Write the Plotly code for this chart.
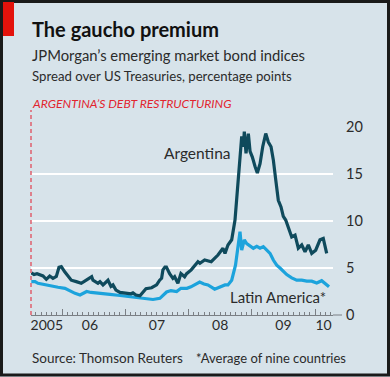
import plotly.graph_objects as go
from datetime import datetime

# ---- data (decimal years, spread in percentage points) ----
arg_t = [2005.511, 2005.554, 2005.601, 2005.696, 2005.748, 2005.802, 2005.854, 2005.907,
         2005.949, 2005.986, 2006.040, 2006.092, 2006.144, 2006.223, 2006.302, 2006.381,
         2006.435, 2006.467, 2006.487, 2006.566, 2006.598, 2006.646, 2006.725, 2006.772,
         2006.804, 2006.851, 2006.915, 2007.021, 2007.089, 2007.120, 2007.168, 2007.231,
         2007.278, 2007.326, 2007.416, 2007.495, 2007.543, 2007.574, 2007.595, 2007.627,
         2007.650, 2007.701, 2007.753, 2007.780, 2007.832, 2007.880, 2007.938, 2007.970,
         2008.043, 2008.070, 2008.149, 2008.180, 2008.255, 2008.359, 2008.465, 2008.544,
         2008.576, 2008.623, 2008.682, 2008.734, 2008.777, 2008.813, 2008.840, 2008.866,
         2008.881, 2008.908, 2008.945, 2008.972, 2009.008, 2009.051, 2009.087, 2009.130,
         2009.172, 2009.220, 2009.261, 2009.304, 2009.340, 2009.378, 2009.419, 2009.462,
         2009.498, 2009.536, 2009.578, 2009.631, 2009.684, 2009.736, 2009.790, 2009.842,
         2009.894, 2009.948, 2010.011, 2010.079, 2010.131, 2010.185]
arg_v = [4.5, 4.3, 4.4, 4.15, 3.8, 4.15, 3.9, 4.1,
         5.07, 5.15, 4.6, 4.1, 3.7, 3.55, 3.37, 3.7,
         3.9, 4.07, 3.7, 3.37, 3.55, 3.2, 3.7, 3.05,
         3.2, 2.66, 2.4, 2.3, 2.26, 2.35, 2.13, 2.05,
         2.45, 2.8, 2.9, 3.2, 3.7, 3.9, 4.8, 5.1,
         5.1, 4.4, 3.9, 4.07, 3.37, 4.4, 4.07, 4.4,
         4.8, 5.0, 5.67, 5.5, 5.85, 5.67, 6.38, 7.1,
         6.56, 7.45, 8.0, 10.1, 13.6, 16.5, 19.0, 17.9,
         19.5, 17.2, 19.3, 17.4, 16.8, 15.8, 15.1, 16.1,
         17.9, 19.3, 18.4, 17.9, 16.5, 14.4, 12.2, 11.5,
         10.5, 10.1, 9.4, 8.3, 8.5, 7.1, 7.45, 6.73,
         7.45, 6.56, 6.9, 8.0, 8.15, 6.56]

lat_t = [2005.511, 2005.570, 2005.617, 2005.728, 2005.854, 2005.934, 2006.044, 2006.123,
         2006.203, 2006.282, 2006.388, 2006.456, 2006.566, 2006.646, 2006.756, 2006.883,
         2007.009, 2007.120, 2007.231, 2007.337, 2007.437, 2007.547, 2007.653, 2007.722,
         2007.812, 2007.880, 2007.975, 2008.038, 2008.101, 2008.176, 2008.244, 2008.307,
         2008.413, 2008.492, 2008.576, 2008.623, 2008.682, 2008.742, 2008.786, 2008.813,
         2008.840, 2008.881, 2008.919, 2008.972, 2009.024, 2009.078, 2009.130, 2009.182,
         2009.236, 2009.288, 2009.340, 2009.394, 2009.446, 2009.498, 2009.552, 2009.631,
         2009.710, 2009.790, 2009.869, 2009.948, 2010.027, 2010.106, 2010.185, 2010.222]
lat_v = [3.55, 3.55, 3.37, 3.2, 3.0, 2.95, 2.84, 2.55,
         2.3, 2.13, 2.5, 2.4, 2.3, 2.25, 2.2, 2.1,
         2.0, 1.9, 1.85, 1.77, 1.65, 1.77, 2.45, 2.6,
         2.5, 2.84, 2.84, 3.0, 3.2, 3.5, 3.3, 3.2,
         2.75, 3.0, 3.2, 3.2, 3.7, 5.3, 7.27, 8.86,
         6.9, 8.0, 7.6, 7.35, 7.1, 7.3, 7.1, 7.27,
         6.9, 6.56, 5.85, 5.3, 5.0, 4.6, 4.3, 3.95,
         3.7, 3.7, 3.6, 3.6, 3.4, 3.65, 3.2, 3.0]

y_ticks = [0, 5, 10, 15, 20]
year_ticks = [2006, 2007, 2008, 2009, 2010]
year_labels = ["2005", "06", "07", "08", "09", "10"]
year_label_pos = [2005.756, 2006.44, 2007.5, 2008.5, 2009.5, 2010.135]


def yr2date(y):
    year = int(y)
    start = datetime(year, 1, 1)
    end = datetime(year + 1, 1, 1)
    return start + (end - start) * (y - year)


BG = "#d7e3ea"
DARK = "#0f4a5c"
LIGHT = "#1ca3dc"
RED = "#e3120b"
TXT = "#2b2b2b"
FONT = "Lato"

x_range = [yr2date(2005.506), yr2date(2010.285)]

fig = go.Figure()
fig.add_trace(go.Scatter(x=[yr2date(t) for t in lat_t], y=lat_v, mode="lines",
                         line=dict(color=LIGHT, width=3.2), hoverinfo="skip", showlegend=False))
fig.add_trace(go.Scatter(x=[yr2date(t) for t in arg_t], y=arg_v, mode="lines",
                         line=dict(color=DARK, width=3.2), hoverinfo="skip", showlegend=False))
# empty trace so that the label axis (x2) is rendered
fig.add_trace(go.Scatter(x=[], y=[], xaxis="x2", yaxis="y", showlegend=False, hoverinfo="skip"))

L, R, T, B = 31, 57, 127, 62
W, H = 390, 377
pw, ph = W - L - R, H - T - B


def px(x):
    return (x - L) / pw


def py(y):
    return (H - B - y) / ph


fig.update_layout(
    width=W, height=H,
    margin=dict(l=L, r=R, t=T, b=B, pad=0, autoexpand=False),
    paper_bgcolor=BG, plot_bgcolor=BG,
    font=dict(family=FONT, color=TXT, size=14),
    xaxis=dict(type="date", range=x_range, showgrid=False, zeroline=False, automargin=False,
               tickmode="array", tickvals=[datetime(y, 1, 1) for y in year_ticks],
               showticklabels=False, ticks="inside", ticklen=6, tickwidth=1,
               tickcolor="#7a7f84", showline=True, linecolor="#7a7f84", linewidth=1,
               minor=dict(ticks="inside", ticklen=3, tickwidth=1, tickcolor="#7a7f84",
                          tickmode="linear", tick0="2005-01-01", dtick="M1", showgrid=False)),
    xaxis2=dict(type="date", range=x_range, overlaying="x", anchor="y", side="bottom",
                showgrid=False, zeroline=False, showline=False, ticks="", automargin=False,
                tickmode="array", tickvals=[yr2date(p) for p in year_label_pos],
                ticktext=year_labels, tickfont=dict(size=14, color=TXT)),
    yaxis=dict(range=[0, 20], side="right", tickmode="array", tickvals=y_ticks,
               showgrid=True, gridcolor="white", gridwidth=2, zeroline=False,
               ticks="", showline=False, ticklabelstandoff=12, automargin=False,
               tickfont=dict(size=14.5, color=TXT)),
)

shapes = []
# outer frame
shapes.append(dict(type="rect", xref="paper", yref="paper",
                   x0=px(1.5), x1=px(388.5), y0=py(375), y1=py(1.5),
                   line=dict(color="#1a1a1a", width=3), fillcolor="rgba(0,0,0,0)"))
# red tab
shapes.append(dict(type="rect", xref="paper", yref="paper",
                   x0=px(3), x1=px(14), y0=py(36), y1=py(2),
                   line=dict(width=0), fillcolor=RED))
# restructuring marker
shapes.append(dict(type="line", xref="paper", yref="paper",
                   x0=0, x1=0, y0=0, y1=py(110),
                   line=dict(color="#e0606e", width=1.5, dash="4px,3px")))
# zero line extension
shapes.append(dict(type="line", xref="paper", yref="paper",
                   x0=1, x1=px(342), y0=0, y1=0,
                   line=dict(color="#7a7f84", width=1)))
fig.update_layout(shapes=shapes)

ann = []


def txt(text, x, y, size, xanchor="left", color=TXT, bold=False, italic=False):
    t = text
    if bold:
        t = "<b>" + t + "</b>"
    if italic:
        t = "<i>" + t + "</i>"
    ann.append(dict(text=t, xref="paper", yref="paper", x=px(x), y=py(y),
                    xanchor=xanchor, yanchor="middle", showarrow=False,
                    font=dict(size=size, color=color, family=FONT)))


txt("The gaucho premium", 30, 29, 20, bold=True, color="#111111")
txt("JPMorgan’s emerging market bond indices", 30, 55, 14.8)
txt("Spread over US Treasuries, percentage points", 30, 76, 13.2)
txt("ARGENTINA’S DEBT RESTRUCTURING", 30, 103, 12.2, color="#e2252f", italic=True)
txt("Argentina", 233, 153, 15.5, xanchor="right")
txt("Latin America*", 328, 297, 15, xanchor="right")
txt("Source: Thomson Reuters", 30, 358, 13.5)
txt("*Average of nine countries", 348, 358, 13, xanchor="right")
fig.update_layout(annotations=ann)

fig.write_html("out.html",
               config={"displayModeBar": False, "staticPlot": True},
               post_script="document.body.style.margin='0';document.body.style.padding='0';")
